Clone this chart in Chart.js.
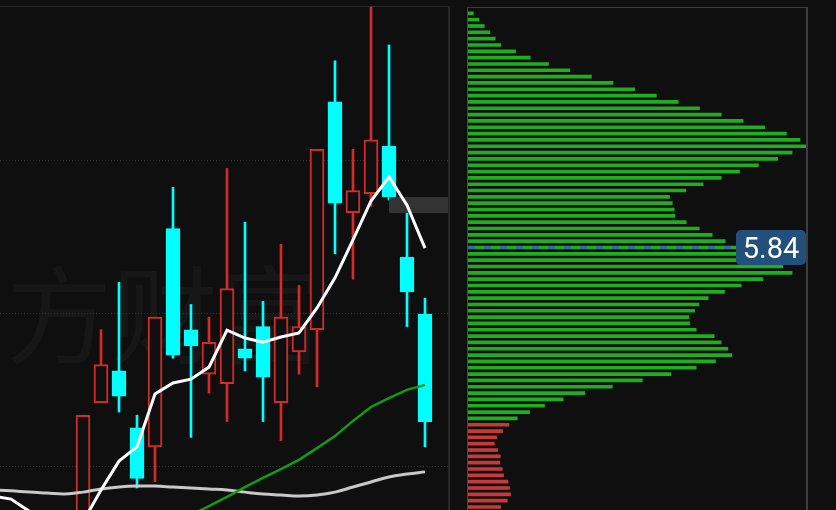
<!DOCTYPE html>
<html>
<head>
<meta charset="utf-8">
<script src="https://cdn.jsdelivr.net/npm/chart.js@4.4.1/dist/chart.umd.min.js"></script>
<style>
  body { margin: 0; background: #0f0f0f; }
  #wrap { position: relative; width: 836px; height: 510px; overflow: hidden; background: #0f0f0f; }
  #mark { position: absolute; left: 6px; top: 256px; font: 106px "Noto Sans CJK SC"; line-height: 106px; color: #171717; white-space: nowrap; }
  #kline { position: absolute; left: 0; top: 0; }
  #topline { position: absolute; left: 0; top: 6px; width: 449px; height: 1px; background: #2a2a2a; }
  #divider { position: absolute; left: 448px; top: 6px; width: 2px; height: 504px; background: #262626; }
  #chipbox { position: absolute; left: 467px; top: 7px; width: 338px; height: 510px; border-left: 1px solid #454545; border-top: 1px solid #3a3a3a; border-right: 2px solid #3e3e3e; }
  #chips { position: absolute; left: 468px; top: 7px; }
</style>
</head>
<body>
<div id="wrap">
  <div id="mark">方财富</div>
  <div id="topline"></div>
  <div id="divider"></div>
  <canvas id="kline" width="448" height="510"></canvas>
  <div id="chipbox"></div>
  <canvas id="chips" width="338" height="503"></canvas>
</div>
<script>
// daily candles (index 0 = first visible bar)
const opens  = [4.92, 5.35, 5.45, 5.27, 5.21, 5.90, 5.58, 5.44, 5.41, 5.52, 5.59, 5.35, 5.51, 5.58, 6.30, 5.95, 6.01, 6.16, 5.81, 5.63];
const highs  = [5.31, 5.58, 5.73, 5.31, 5.62, 6.03, 5.66, 5.62, 6.09, 5.92, 5.67, 5.85, 5.72, 6.15, 6.43, 6.15, 6.60, 6.48, 5.96, 5.68];
const lows   = [4.89, 5.35, 5.32, 5.08, 5.10, 5.49, 5.24, 5.38, 5.29, 5.45, 5.29, 5.23, 5.44, 5.40, 5.82, 5.74, 5.97, 5.99, 5.59, 5.21];
const closes = [5.31, 5.47, 5.37, 5.11, 5.62, 5.50, 5.53, 5.54, 5.71, 5.49, 5.43, 5.62, 5.59, 6.15, 5.98, 6.02, 6.18, 6.00, 5.70, 5.29];

// moving averages start 5 bars before the first visible candle
const maStart = -5;
const ma5  = [5.055, 5.045, 5.007, 4.973, 4.947, 4.973, 5.074, 5.165, 5.210, 5.377, 5.412, 5.424, 5.462,
              5.579, 5.554, 5.541, 5.557, 5.570, 5.649, 5.744, 5.864, 5.987, 6.063, 5.974, 5.838];
const ma20 = [null, null, null, null, null, null, null, null, null, 4.932, 4.966, 4.995, 5.023,
              5.052, 5.083, 5.112, 5.140, 5.169, 5.206, 5.244, 5.292, 5.336, 5.364, 5.390, 5.406];
const ma60 = [5.074, 5.071, 5.067, 5.064, 5.061, 5.067, 5.077, 5.083, 5.086, 5.086, 5.083, 5.080, 5.077,
              5.074, 5.067, 5.061, 5.058, 5.055, 5.058, 5.067, 5.083, 5.099, 5.115, 5.124, 5.131];

// chip distribution, one row per 0.02 from 6.58 down
const chipTop = 6.58;
const chipStep = 0.02;
const chipVolumes = [
  1.6, 3.3, 4.9, 6.6, 8.2, 9.9, 14.3, 18.7, 24.2, 30.6,
  37.1, 43.6, 50.1, 56.6, 63.2, 69.6, 76.1, 82.7, 89.2, 95.7,
  99.8, 101.6, 97.4, 93.1, 87.3, 81.6, 76.1, 70.7, 65.5, 60.6,
  61.4, 62.0, 62.2, 65.6, 69.5, 73.4, 77.3, 84.0, 87.6, 90.1,
  94.6, 97.4, 88.6, 82.1, 77.1, 72.2, 69.4, 68.1, 66.4, 66.6,
  68.6, 74.0, 76.1, 78.1, 79.3, 74.4, 68.6, 61.0, 52.4, 43.4,
  35.1, 28.6, 23.0, 18.5, 14.8, 12.3, 10.4, 8.6, 7.9, 8.9,
  9.7, 9.6, 10.3, 10.7, 12.0, 12.5, 12.8, 11.8, 9.8
];
const chipPrices = chipVolumes.map((v, k) => +(chipTop - chipStep * k).toFixed(2));
const avgCost = 5.84;

const upColor = "#d42a2a";
const downColor = "#00ffff";
const bgColor = "#0f0f0f";
const lastClose = closes[closes.length - 1];

// dotted grid that splits the price panel
const gridPlugin = {
  id: "panelGrid",
  beforeDatasetsDraw(chart) {
    const ctx = chart.ctx;
    ctx.save();
    ctx.strokeStyle = "#303030";
    ctx.lineWidth = 1;
    ctx.setLineDash([1, 2]);
    [160, 313, 466].forEach(function (y) {
      ctx.beginPath();
      ctx.moveTo(0, y + 0.5);
      ctx.lineTo(chart.width, y + 0.5);
      ctx.stroke();
    });
    ctx.restore();
  }
};

// grey tag block sitting under the MA lines
const tagPlugin = {
  id: "tagBlock",
  afterDatasetDraw(chart, args) {
    if (args.index !== 1) return;
    chart.ctx.save();
    chart.ctx.fillStyle = "#333333";
    chart.ctx.fillRect(389, 197, 60, 16);
    chart.ctx.restore();
  }
};

const isUp = opens.map((o, i) => closes[i] >= o);

new Chart(document.getElementById("kline"), {
  type: "bar",
  data: {
    datasets: [
      {
        label: "wick",
        data: opens.map((o, i) => ({ x: i, y: [lows[i], highs[i]] })),
        backgroundColor: isUp.map((u) => (u ? upColor : downColor)),
        barThickness: 2,
        grouped: false,
        order: 3,
      },
      {
        label: "body",
        data: opens.map((o, i) => ({ x: i, y: [o, closes[i]] })),
        backgroundColor: isUp.map((u) => (u ? bgColor : downColor)),
        borderColor: isUp.map((u) => (u ? upColor : downColor)),
        borderWidth: 2,
        borderSkipped: false,
        barThickness: 14,
        grouped: false,
        order: 2,
      },
      {
        type: "line",
        label: "MA5",
        data: ma5.map((v, i) => ({ x: i + maStart, y: v })),
        borderColor: "#ffffff",
        borderWidth: 3,
        pointRadius: 0,
        tension: 0,
        order: 1,
      },
      {
        type: "line",
        label: "MA20",
        data: ma20.map((v, i) => ({ x: i + maStart, y: v })),
        borderColor: "#139c13",
        borderWidth: 2.5,
        pointRadius: 0,
        tension: 0,
        order: 1,
      },
      {
        type: "line",
        label: "MA60",
        data: ma60.map((v, i) => ({ x: i + maStart, y: v })),
        borderColor: "#c8c8c8",
        borderWidth: 3,
        pointRadius: 0,
        tension: 0.4,
        order: 1,
      },
    ],
  },
  options: {
    responsive: false,
    animation: false,
    events: [],
    layout: { padding: 0 },
    plugins: { legend: { display: false }, tooltip: { enabled: false } },
    scales: {
      x: { type: "linear", display: false, offset: false, min: -4.611, max: 20.278 },
      y: { type: "linear", display: false, min: 5.0105, max: 6.6221 },
    },
  },
  plugins: [gridPlugin, tagPlugin],
});

// dashed average-cost line with its price tag
const costPlugin = {
  id: "costLine",
  afterDatasetsDraw(chart) {
    const ctx = chart.ctx;
    const a = chart.chartArea;
    const py = chart.scales.y.getPixelForValue(avgCost);
    const w = 70, h = 35;
    const x0 = a.right - w;
    ctx.save();
    ctx.strokeStyle = "#3b6c99";
    ctx.lineWidth = 3;
    ctx.setLineDash([7, 9]);
    ctx.beginPath();
    ctx.moveTo(a.left, py);
    ctx.lineTo(x0, py);
    ctx.stroke();
    ctx.setLineDash([]);
    ctx.fillStyle = "#234f7b";
    ctx.beginPath();
    ctx.roundRect(x0, py - h / 2, w, h, 5);
    ctx.fill();
    ctx.fillStyle = "#ffffff";
    ctx.font = "29px Roboto";
    ctx.textAlign = "center";
    ctx.textBaseline = "alphabetic";
    ctx.fillText(avgCost.toFixed(2), x0 + w / 2, py + 10.5);
    ctx.restore();
  }
};

new Chart(document.getElementById("chips"), {
  type: "bar",
  data: {
    datasets: [
      {
        label: "chips",
        data: chipVolumes.map((v, k) => ({ x: v, y: chipPrices[k] })),
        backgroundColor: chipPrices.map((p) => (p < lastClose ? "#c73a3a" : "#1fae1f")),
        barThickness: 3,
      },
    ],
  },
  options: {
    indexAxis: "y",
    responsive: false,
    animation: false,
    events: [],
    layout: { padding: 0 },
    plugins: { legend: { display: false }, tooltip: { enabled: false } },
    scales: {
      x: { type: "linear", display: false, min: 0, max: 101.6 },
      y: { type: "linear", display: false, offset: false, min: 5.0105, max: 6.6 },
    },
  },
  plugins: [costPlugin],
});
</script>
</body>
</html>
